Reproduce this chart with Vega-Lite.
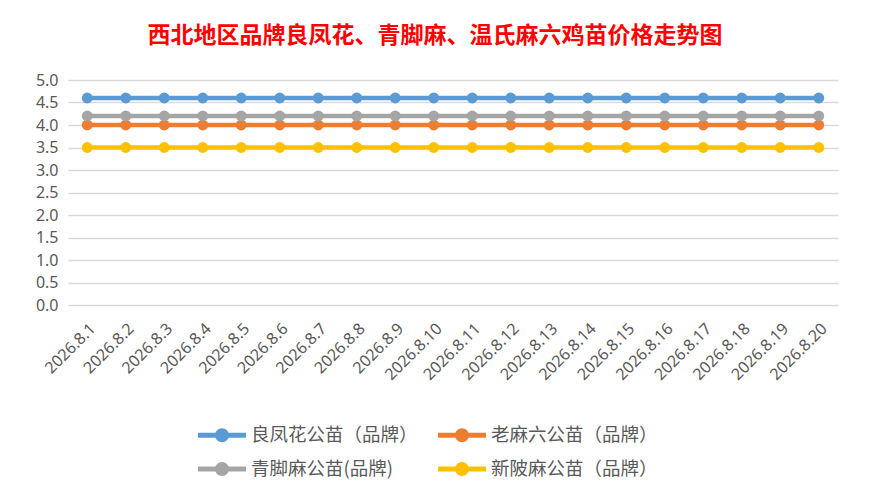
{
  "$schema": "https://vega.github.io/schema/vega-lite/v6.json",
  "autosize": "none",
  "width": 770,
  "height": 225,
  "padding": {"left": 68, "top": 80, "right": 32, "bottom": 197},
  "background": "white",
  "title": {
    "text": "西北地区品牌良凤花、青脚麻、温氏麻六鸡苗价格走势图",
    "font": "Noto Sans CJK SC",
    "fontSize": 23,
    "fontWeight": "bold",
    "color": "#FF0000",
    "anchor": "middle",
    "frame": "group",
    "dx": -18,
    "offset": 24
  },
  "data": {
    "values": [
      {"date": "2026.8.1", "a": 4.6, "b": 4.0, "c": 4.2, "d": 3.5},
      {"date": "2026.8.2", "a": 4.6, "b": 4.0, "c": 4.2, "d": 3.5},
      {"date": "2026.8.3", "a": 4.6, "b": 4.0, "c": 4.2, "d": 3.5},
      {"date": "2026.8.4", "a": 4.6, "b": 4.0, "c": 4.2, "d": 3.5},
      {"date": "2026.8.5", "a": 4.6, "b": 4.0, "c": 4.2, "d": 3.5},
      {"date": "2026.8.6", "a": 4.6, "b": 4.0, "c": 4.2, "d": 3.5},
      {"date": "2026.8.7", "a": 4.6, "b": 4.0, "c": 4.2, "d": 3.5},
      {"date": "2026.8.8", "a": 4.6, "b": 4.0, "c": 4.2, "d": 3.5},
      {"date": "2026.8.9", "a": 4.6, "b": 4.0, "c": 4.2, "d": 3.5},
      {"date": "2026.8.10", "a": 4.6, "b": 4.0, "c": 4.2, "d": 3.5},
      {"date": "2026.8.11", "a": 4.6, "b": 4.0, "c": 4.2, "d": 3.5},
      {"date": "2026.8.12", "a": 4.6, "b": 4.0, "c": 4.2, "d": 3.5},
      {"date": "2026.8.13", "a": 4.6, "b": 4.0, "c": 4.2, "d": 3.5},
      {"date": "2026.8.14", "a": 4.6, "b": 4.0, "c": 4.2, "d": 3.5},
      {"date": "2026.8.15", "a": 4.6, "b": 4.0, "c": 4.2, "d": 3.5},
      {"date": "2026.8.16", "a": 4.6, "b": 4.0, "c": 4.2, "d": 3.5},
      {"date": "2026.8.17", "a": 4.6, "b": 4.0, "c": 4.2, "d": 3.5},
      {"date": "2026.8.18", "a": 4.6, "b": 4.0, "c": 4.2, "d": 3.5},
      {"date": "2026.8.19", "a": 4.6, "b": 4.0, "c": 4.2, "d": 3.5},
      {"date": "2026.8.20", "a": 4.6, "b": 4.0, "c": 4.2, "d": 3.5}
    ]
  },
  "transform": [
    {"fold": ["a", "b", "c", "d"], "as": ["key", "price"]},
    {
      "lookup": "key",
      "from": {
        "data": {
          "values": [
            {"key": "a", "series": "良凤花公苗（品牌）"},
            {"key": "b", "series": "老麻六公苗（品牌）"},
            {"key": "c", "series": "青脚麻公苗(品牌)"},
            {"key": "d", "series": "新陂麻公苗（品牌）"}
          ]
        },
        "key": "key",
        "fields": ["series"]
      }
    }
  ],
  "encoding": {
    "x": {
      "field": "date",
      "type": "nominal",
      "sort": null,
      "title": null,
      "scale": {"type": "band", "paddingInner": 0, "paddingOuter": 0},
      "axis": {
        "labelAngle": -45,
        "labelFont": "Noto Sans",
        "labelFontSize": 16,
        "labelColor": "#595959",
        "domain": false,
        "ticks": false,
        "labelPadding": 15,
        "grid": false
      }
    },
    "y": {
      "field": "price",
      "type": "quantitative",
      "title": null,
      "scale": {"domain": [0, 5]},
      "axis": {
        "values": [0, 0.5, 1, 1.5, 2, 2.5, 3, 3.5, 4, 4.5, 5],
        "format": ".1f",
        "labelFont": "Noto Sans",
        "labelFontSize": 16,
        "labelColor": "#595959",
        "domain": false,
        "ticks": false,
        "labelPadding": 10,
        "gridColor": "#D9D9D9",
        "gridWidth": 1.5
      }
    },
    "color": {
      "field": "series",
      "type": "nominal",
      "scale": {
        "domain": ["良凤花公苗（品牌）", "青脚麻公苗(品牌)", "老麻六公苗（品牌）", "新陂麻公苗（品牌）"],
        "range": ["#5B9BD5", "#A5A5A5", "#ED7D31", "#FFC000"]
      },
      "legend": {
        "title": null,
        "orient": "none",
        "legendX": 130,
        "legendY": 331,
        "columns": 2,
        "columnPadding": 20,
        "rowPadding": -14,
        "symbolType": "M-1,-0.1 L1,-0.1 L1,0.1 L-1,0.1 Z M-0.29,0 A0.29,0.29 0 1,1 0.29,0 A0.29,0.29 0 1,1 -0.29,0 Z",
        "symbolSize": 2304,
        "symbolStrokeWidth": 0,
        "labelFont": "Noto Sans CJK SC",
        "labelFontSize": 18.5,
        "labelColor": "#595959",
        "labelOffset": 5,
        "labelLimit": 300
      }
    }
  },
  "layer": [
    {"mark": {"type": "line", "strokeWidth": 4.5}},
    {"mark": {"type": "point", "filled": true, "opacity": 1, "size": 120}}
  ],
  "config": {
    "view": {"stroke": null},
    "legend": {"symbolOpacity": 1}
  }
}
